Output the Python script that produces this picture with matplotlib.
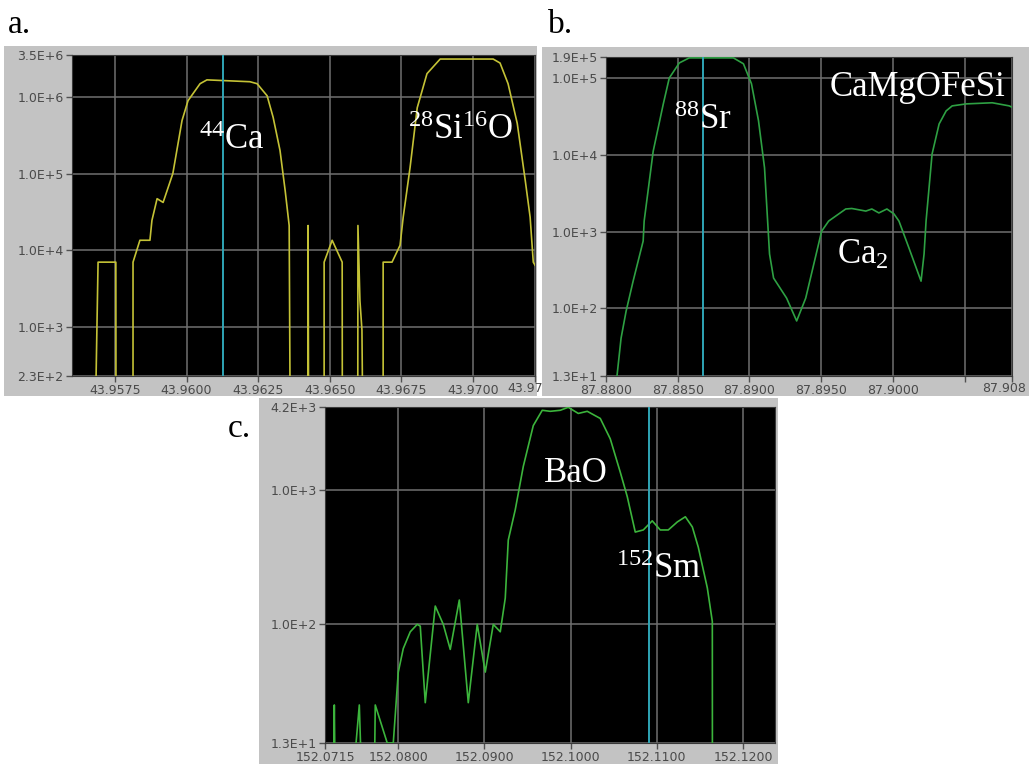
import numpy as np
import matplotlib
matplotlib.use('Agg')
import matplotlib.pyplot as plt
from matplotlib.ticker import NullLocator

# fonts: sans for the instrument axes, serif for the white peak labels
plt.rcParams['font.family'] = ['DejaVu Sans']
plt.rcParams['mathtext.fontset'] = 'custom'
plt.rcParams['mathtext.rm'] = 'Liberation Serif'
plt.rcParams['mathtext.it'] = 'Liberation Serif:italic'
plt.rcParams['mathtext.bf'] = 'Liberation Serif:bold'

# ---- panel a : 44Ca / 28Si16O (values of 1 = below the axis floor) ----
a_mass = [43.95673, 43.95691, 43.95753, 43.95754,
          43.95813, 43.95813, 43.95837, 43.95872, 43.95879, 43.95897, 43.95918,
          43.95952, 43.95984, 43.96005, 43.96047, 43.96071, 43.96221, 43.96246,
          43.96281, 43.96302, 43.96326, 43.96344, 43.96358, 43.96364,
          43.96423, 43.96424, 43.96427,
          43.96480, 43.96480, 43.96508, 43.96543, 43.96544,
          43.96597, 43.96598, 43.96605, 43.96612, 43.96619,
          43.96686, 43.96686, 43.96717, 43.96745, 43.96756, 43.96780, 43.96805,
          43.96839, 43.96885, 43.97070, 43.97094, 43.97122, 43.97154, 43.97182,
          43.97199, 43.97210, 43.97216]
a_counts = [1, 7.0e3, 7.0e3, 1,
            1, 7.0e3, 1.35e4, 1.35e4, 2.45e4, 4.7e4, 4.2e4,
            1.0e5, 4.9e5, 8.9e5, 1.48e6, 1.66e6, 1.57e6, 1.48e6,
            1.03e6, 5.4e5, 2.0e5, 6.0e4, 2.1e4, 1,
            1, 2.1e4, 1,
            1, 7.0e3, 1.35e4, 7.0e3, 1,
            1, 2.1e4, 2.2e3, 915, 1,
            1, 7.0e3, 7.0e3, 1.16e4, 2.7e4, 1.2e5, 7.2e5,
            2.0e6, 3.1e6, 3.1e6, 2.75e6, 1.48e6, 4.5e5, 8.1e4,
            2.7e4, 7.0e3, 6.4e3]
a_ref = 43.96126
a_xticks = [43.9575, 43.9600, 43.9625, 43.9650, 43.9675, 43.9700, 43.97216]
a_xlabels = ['43.9575', '43.9600', '43.9625', '43.9650', '43.9675', '43.9700', '']
a_end_label = '43.97'
a_yticks = [230, 1e3, 1e4, 1e5, 1e6, 3.5e6]
a_ylabels = ['2.3E+2', '1.0E+3', '1.0E+4', '1.0E+5', '1.0E+6', '3.5E+6']

# ---- panel b : 88Sr / Ca2 / CaMgOFeSi ----
b_mass = [87.8807, 87.88105, 87.8814, 87.88189, 87.88259, 87.88266, 87.88329,
          87.88399, 87.88441, 87.88511, 87.8858, 87.88888, 87.88958, 87.89014,
          87.89063, 87.89105, 87.8914, 87.89168, 87.89259, 87.89329, 87.89392,
          87.89503, 87.89552, 87.89671, 87.89713, 87.89811, 87.89853, 87.89902,
          87.89958, 87.90007, 87.90042, 87.90112, 87.90196, 87.90217, 87.90231,
          87.90273, 87.90322, 87.90371, 87.90413, 87.90511, 87.90692, 87.90811,
          87.90830]
b_counts = [10, 40.5, 91, 225, 751, 1.37e3, 1.12e4,
            4.6e4, 1.01e5, 1.59e5, 1.85e5, 1.85e5, 1.55e5, 8.5e4,
            2.8e4, 6.8e3, 508, 247, 135, 68, 135,
            1.01e3, 1.37e3, 1.97e3, 2.0e3, 1.85e3, 1.97e3, 1.75e3,
            1.97e3, 1.7e3, 1.37e3, 608, 225, 508, 1.37e3,
            1.03e4, 2.54e4, 3.76e4, 4.37e4, 4.64e4, 4.8e4, 4.37e4,
            4.2e4]
b_ref = 87.88675
b_xticks = [87.8800, 87.8850, 87.8900, 87.8950, 87.9000, 87.9050, 87.9083]
b_xlabels = ['87.8800', '87.8850', '87.8900', '87.8950', '87.9000', '', '']
b_end_label = '87.908'
b_yticks = [13, 1e2, 1e3, 1e4, 1e5, 1.9e5]
b_ylabels = ['1.3E+1', '1.0E+2', '1.0E+3', '1.0E+4', '1.0E+5', '1.9E+5']

# ---- panel c : BaO / 152Sm ----
c_mass = [152.07165, 152.07246, 152.07258, 152.0727, 152.07455, 152.07548,
          152.07582, 152.07720, 152.07733, 152.07872, 152.07942, 152.08,
          152.08058, 152.08139, 152.0822, 152.08255, 152.08313, 152.08429,
          152.08522, 152.08603, 152.08708, 152.08812, 152.08916, 152.09009,
          152.09102, 152.09183, 152.09241, 152.09276, 152.09357, 152.0945,
          152.09566, 152.0967, 152.09763, 152.09879, 152.09972, 152.10088,
          152.10192, 152.10343, 152.10459, 152.10575, 152.10656, 152.10749,
          152.10842, 152.10946, 152.11039, 152.11132, 152.11237, 152.1133,
          152.11411, 152.1148, 152.11585, 152.11643, 152.11644]
c_counts = [5, 5, 25, 5, 5, 25,
            5, 5, 25, 13, 13, 44,
            66, 88, 100, 97, 26, 137,
            100, 65, 152, 26, 100, 44,
            100, 88, 157, 426, 718, 1.51e3,
            3.05e3, 3.97e3, 3.9e3, 3.97e3, 4.18e3, 3.76e3,
            3.9e3, 3.45e3, 2.43e3, 1.37e3, 900, 489,
            507, 593, 507, 507, 582, 636,
            534, 377, 187, 105, 5]
c_ref = 152.10907
c_xticks = [152.0715, 152.0800, 152.0900, 152.1000, 152.1100, 152.1200]
c_xlabels = ['152.0715', '152.0800', '152.0900', '152.1000', '152.1100', '152.1200']
c_yticks = [13, 1e2, 1e3, 4.2e3]
c_ylabels = ['1.3E+1', '1.0E+2', '1.0E+3', '4.2E+3']

W, H = 1029, 764
fig = plt.figure(figsize=(W / 100, H / 100), dpi=100)
fig.patch.set_facecolor('white')

tick_style = dict(color='#4a4a4a', fontsize=9)


def px_rect(x0, y0, x1, y1):
    # pixel box (top-left origin) -> figure fraction rect
    return [x0 / W, 1 - y1 / H, (x1 - x0) / W, (y1 - y0) / H]


def make_panel(frame, plot, mass, counts, ref, xlim, ylim,
               xticks, xlabels, yticks, ylabels, color):
    bg = fig.add_axes(px_rect(*frame))
    bg.set_facecolor('#c3c3c3')
    bg.set_xticks([])
    bg.set_yticks([])
    for s in bg.spines.values():
        s.set_visible(False)

    ax = fig.add_axes(px_rect(*plot))
    ax.set_facecolor('black')
    ax.set_yscale('log')
    ax.plot(mass, counts, color=color, lw=1.2, zorder=3)
    ax.axvline(ref, color='#2fa5b5', lw=1.4, zorder=4)
    ax.set_xlim(*xlim)
    ax.set_ylim(*ylim)

    ax.set_xticks(xticks)
    ax.set_xticklabels(xlabels)
    ax.set_yticks(yticks)
    ax.set_yticklabels(ylabels)
    ax.yaxis.set_minor_locator(NullLocator())
    ax.xaxis.set_minor_locator(NullLocator())
    ax.grid(True, color='#707070', lw=1.1)
    ax.set_axisbelow(True)
    ax.tick_params(direction='out', length=4, width=1, color='#505050',
                   labelcolor=tick_style['color'], labelsize=tick_style['fontsize'], pad=2)
    for s in ax.spines.values():
        s.set_color('#3a3a3a')
    return ax


ax_a = make_panel((4, 46, 537, 396), (72, 55, 535, 376), a_mass, a_counts, a_ref,
                  (43.95600, 43.97216), (230, 3.5e6),
                  a_xticks, a_xlabels, a_yticks, a_ylabels, '#c4c236')
ax_b = make_panel((542, 47, 1029, 396), (606, 57, 1012, 376), b_mass, b_counts, b_ref,
                  (87.8800, 87.9083), (13, 1.9e5),
                  b_xticks, b_xlabels, b_yticks, b_ylabels, '#2ea043')
ax_c = make_panel((259, 398, 778, 764), (325, 407, 775, 743), c_mass, c_counts, c_ref,
                  (152.0715, 152.1237), (13, 4.2e3),
                  c_xticks, c_xlabels, c_yticks, c_ylabels, '#3cb43c')

# end-of-axis values, squeezed against the frame edge as on the instrument screen
fig.text(507 / W, 1 - 389 / H, a_end_label, ha='left', va='center', **tick_style)
fig.text(1026 / W, 1 - 389 / H, b_end_label, ha='right', va='center', **tick_style)

# white peak labels
serif = dict(color='white', fontfamily='Liberation Serif', fontsize=25,
             va='baseline', zorder=6)
ax_a.text(43.96158, 2.1e5, r'$^{44}$Ca', ha='center', **serif)
ax_a.text(43.96958, 2.85e5, r'$^{28}$Si$^{16}$O', ha='center', **serif)
ax_b.text(87.88678, 2.19e4, r'$^{88}$Sr', ha='center', **serif)
ax_b.text(87.90168, 5.9e4, 'CaMgOFeSi', ha='center', **serif)
ax_b.text(87.89608, 376, r'Ca$_2$', ha='left', **serif)
ax_c.text(152.10065, 1.15e3, 'BaO', ha='center', **serif)
ax_c.text(152.11016, 223, r'$^{152}$Sm', ha='center', **serif)

# panel letters
fig.text(8 / W, 1 - 33 / H, 'a.', fontfamily='Liberation Serif', fontsize=24)
fig.text(548 / W, 1 - 33 / H, 'b.', fontfamily='Liberation Serif', fontsize=24)
fig.text(228 / W, 1 - 437 / H, 'c.', fontfamily='Liberation Serif', fontsize=24)

plt.savefig('out.png', dpi=100)
plt.close()
